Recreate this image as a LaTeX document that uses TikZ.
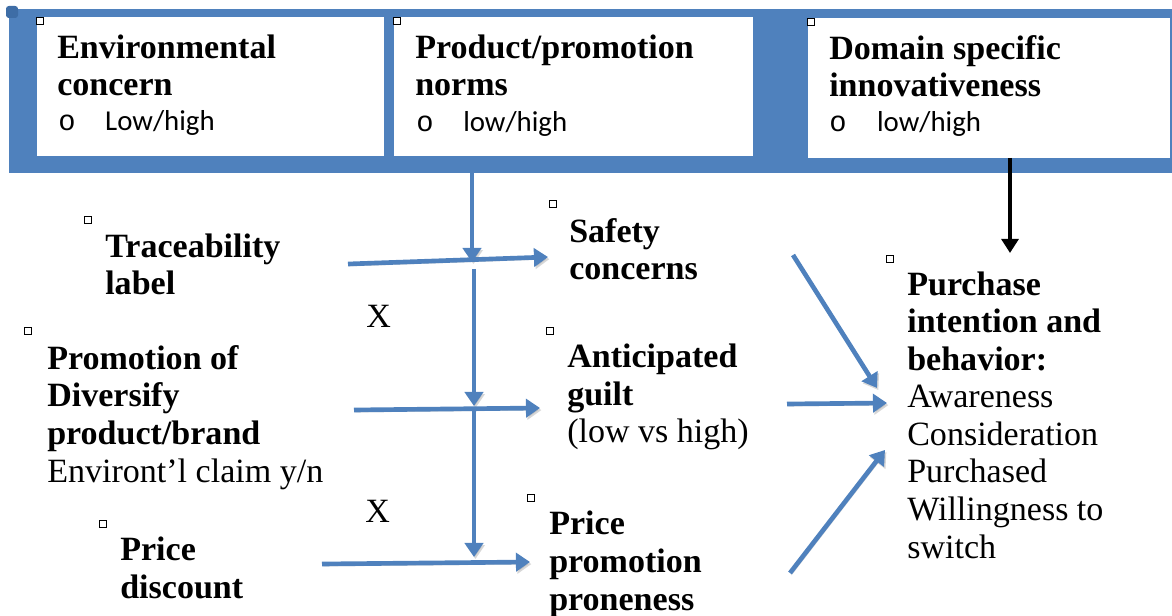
\documentclass[tikz,border=0pt]{standalone}
\usepackage{fontspec}
\setmainfont{Liberation Serif}
\newfontfamily\calfont{Carlito}
\newfontfamily\courfont{Liberation Mono}
\usetikzlibrary{arrows.meta}
\definecolor{wordblue}{HTML}{4F81BD}
\definecolor{handleblue}{HTML}{3E6DA6}
\tikzset{
  flow/.style={draw=wordblue, line width=3.3pt, -{Triangle[length=10pt,width=13pt]},
    preaction={draw=black!35, opacity=.45, transform canvas={shift={(1pt,-1.5pt)}}}},
  darkflow/.style={draw=black, line width=2.8pt, -{Triangle[length=10pt,width=12pt]}},
  sqmark/.style={draw=black, fill=white, line width=0.7pt, minimum size=4.5pt, inner sep=0},
  headtext/.style={font=\fontsize{24.2}{26.7}\selectfont\bfseries, anchor=base west, align=left, inner sep=0},
  bodytext/.style={font=\fontsize{24.2}{26.7}\selectfont, anchor=base west, align=left, inner sep=0},
  bullettext/.style={font=\calfont\fontsize{20.5}{24}\selectfont, anchor=base west, inner sep=0}
}
\begin{document}
\begin{tikzpicture}[x=0.025cm,y=-0.025cm]
\useasboundingbox (0,0) rectangle (1172,616);
\fill[wordblue] (9,9) rectangle (1172,173);
\fill[handleblue, rounded corners=2pt] (6,6) rectangle (18,18);
\fill[white] (37,17) rectangle (384,156);
\fill[white] (394,17) rectangle (753,156);
\fill[white] (808,18) rectangle (1170,158);

\node[sqmark] (envmark) at (40,21) {};
\node[sqmark] (normsmark) at (397,21) {};
\node[sqmark] (domainmark) at (811,22) {};
\node[sqmark] (tracemark) at (88,220) {};
\node[sqmark] (promomark) at (28,331) {};
\node[sqmark] (safetymark) at (553,204) {};
\node[sqmark] (guiltmark) at (550,331) {};
\node[sqmark] (discountmark) at (103,524) {};
\node[sqmark] (pronemark) at (531,498) {};
\node[sqmark] (purchasemark) at (890,259) {};

\node[headtext] (envtitle) at (57,96) {Environmental\\concern};
\node[bullettext] (envlevel) at (58,131) {\makebox[33.4pt][l]{\courfont o}Low/high};
\node[headtext] (normstitle) at (415,96) {Product/promotion\\norms};
\node[bullettext] (normslevel) at (416,132) {\makebox[33.4pt][l]{\courfont o}low/high};
\node[headtext] (domaintitle) at (829,97) {Domain specific\\innovativeness};
\node[bullettext] (domainlevel) at (829,132) {\makebox[34pt][l]{\courfont o}low/high};

\node[headtext] (trace) at (105,295) {Traceability\\label};
\node[bodytext] (promo) at (47,482) {\textbf{Promotion of}\\\textbf{Diversify}\\\textbf{product/brand}\\Environt’l claim y/n};
\node[headtext] (discount) at (120,598) {Price\\discount};
\node[bodytext] (crossa) at (366,328) {X};
\node[bodytext] (crossb) at (365,522) {X};
\node[headtext] (safety) at (569,280) {Safety\\concerns};
\node[bodytext] (guilt) at (567,443) {\textbf{Anticipated}\\\textbf{guilt}\\(low vs high)};
\node[headtext] (prone) at (549,610) {Price\\promotion\\proneness};
\node[bodytext] (purchase) at (907,558) {\textbf{Purchase}\\\textbf{intention and}\\\textbf{behavior:}\\Awareness\\Consideration\\Purchased\\Willingness to\\switch};

\coordinate (normsout) at (472,173);
\coordinate (crossone) at (472,262);
\coordinate (gapone) at (474,269);
\coordinate (crosstwo) at (474,406);
\coordinate (gaptwo) at (474,411);
\coordinate (crossthree) at (474,557);
\coordinate (traceout) at (348,264);
\coordinate (safetyin) at (548,257);
\coordinate (promoout) at (354,410);
\coordinate (guiltin) at (540,408);
\coordinate (discountout) at (322,564);
\coordinate (pronein) at (530,562);
\coordinate (safetyout) at (793,255);
\coordinate (purchasein) at (877,388);
\coordinate (guiltout) at (787,404);
\coordinate (purchasemid) at (887,403);
\coordinate (proneout) at (790,573);
\coordinate (purchaselow) at (885,450);
\coordinate (domainout) at (1010,158);
\coordinate (purchasetop) at (1010,253);

\draw[flow] (normsout) -- (crossone);
\draw[flow] (traceout) -- (safetyin);
\draw[flow] (gapone) -- (crosstwo);
\draw[flow] (promoout) -- (guiltin);
\draw[flow] (gaptwo) -- (crossthree);
\draw[flow] (discountout) -- (pronein);
\draw[flow] (safetyout) -- (purchasein);
\draw[flow] (guiltout) -- (purchasemid);
\draw[flow] (proneout) -- (purchaselow);
\draw[darkflow] (domainout) -- (purchasetop);
\end{tikzpicture}
\end{document}
